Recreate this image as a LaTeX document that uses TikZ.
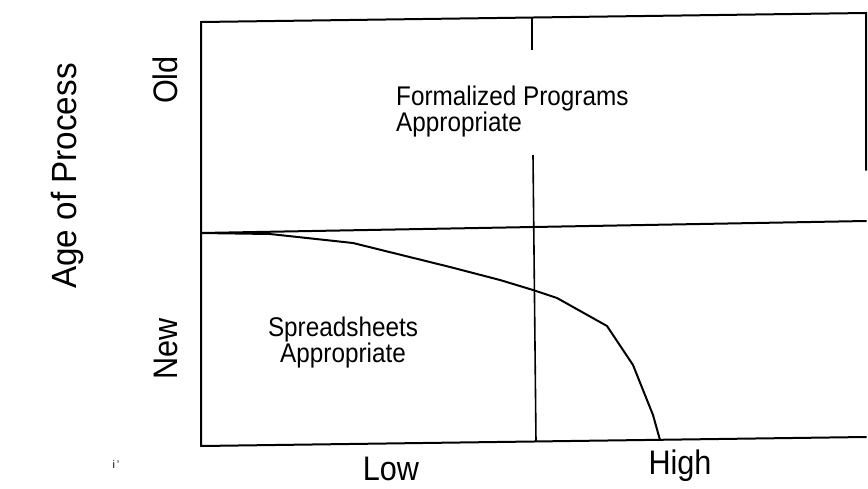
\documentclass[tikz,border=0pt]{standalone}
\usepackage{fontspec}
\setmainfont{Liberation Sans}
\newfontfamily\condfont{Liberation Sans}[FakeStretch=0.9]
\newfontfamily\agefont{Liberation Sans}[FakeStretch=0.95]
\begin{document}
\begin{tikzpicture}[x=1pt,y=-1pt,
  frame/.style={line width=2pt, line cap=round},
  divline/.style={line width=1.6pt},
  curveline/.style={line width=2pt, line join=round},
  region/.style={inner sep=0pt, font=\condfont\fontsize{27}{26}\selectfont},
  axislabel/.style={inner sep=0pt, font=\condfont\fontsize{34}{34}\selectfont},
  agelabel/.style={inner sep=0pt, font=\agefont\fontsize{35}{35}\selectfont}]
\useasboundingbox (0,0) rectangle (868,488);
% frame corners
\coordinate (tl) at (201,22);
\coordinate (tr) at (866,13);
\coordinate (ml) at (201,233);
\coordinate (mr) at (866,221);
\coordinate (bl) at (201,446);
\coordinate (br) at (866,437);
\coordinate (rb) at (866,170);
% frame
\draw[frame] (bl) -- (tl) -- (tr) -- (rb);
\draw[frame] (ml) -- (mr);
\draw[frame] (bl) -- (br);
% divider
\coordinate (d1) at (532,18);
\coordinate (d2) at (532,50);
\coordinate (d3) at (533,155);
\coordinate (d4) at (536,442);
\draw[divline] (d1) -- (d2);
\draw[divline] (d3) -- (d4);
% curve
\draw[curveline] (ml) -- (270,234) -- (353,243) -- (450,267) -- (500,280)
  -- (533,290) -- (557,298) -- (607,326) -- (633,365) -- (653,415) -- (660,440);
% texts
\node[region, anchor=north west, align=left] (fp) at (396,86)
  {Formalized Programs\\Appropriate};
\node[region, align=center] (sa) at (343,343) {Spreadsheets\\Appropriate};
\node[agelabel, rotate=90] (age) at (67,176) {Age of Process};
\node[axislabel, rotate=90] (old) at (165,80) {Old};
\node[axislabel, rotate=90] (new) at (166,349) {New};
\node[axislabel] (low) at (391,469) {Low};
\node[axislabel] (high) at (680,466) {High};
\node[inner sep=0pt, font=\fontsize{11}{11}\selectfont] (mark) at (116,465) {i\kern2pt'};
\end{tikzpicture}
\end{document}
